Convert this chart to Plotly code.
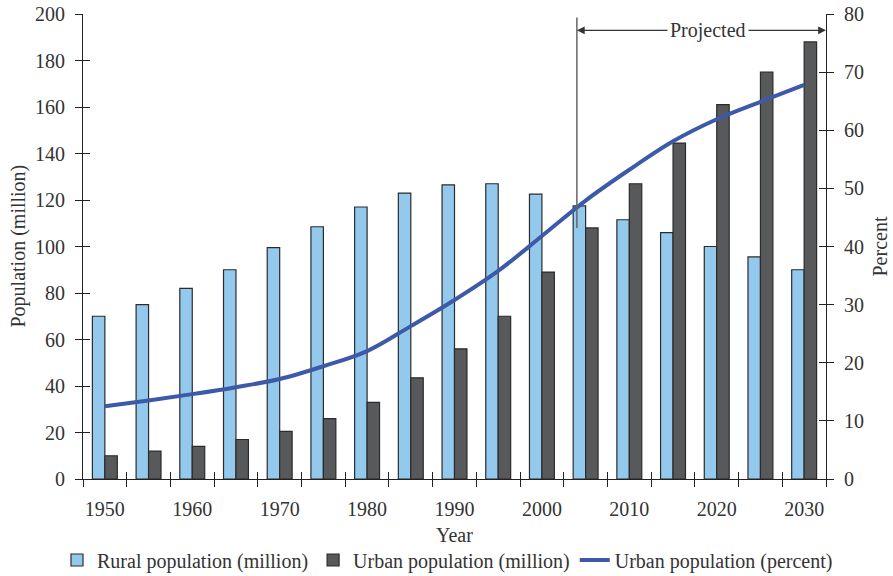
import plotly.graph_objects as go

years = [1950, 1955, 1960, 1965, 1970, 1975, 1980, 1985, 1990, 1995,
         2000, 2005, 2010, 2015, 2020, 2025, 2030]
rural = [70, 75, 82, 90, 99.5, 108.5, 117, 123, 126.5, 127,
         122.5, 117.5, 111.5, 106, 100, 95.5, 90]
urban = [10, 12, 14, 17, 20.5, 26, 33, 43.5, 56, 70,
         89, 108, 127, 144.5, 161, 175, 188]
urban_pct = [12.5, 13.5, 14.6, 15.8, 17.2, 19.4, 22.0, 26.3, 30.8, 35.8,
             41.8, 47.9, 53.2, 58.1, 61.9, 64.9, 67.8]
label_years = [1950, 1960, 1970, 1980, 1990, 2000, 2010, 2020, 2030]
boundaries = [1947.5 + 5 * i for i in range(18)]
proj_start = 2004
proj_y_top = 198.5
proj_y_bottom = 108
arrow_y = 193

FONT = "Liberation Serif"
TXT = "#333333"
AX = "#222222"
xr = [1947.5, 2032.5]

W, H = 893, 576
L, R, T, B = 83, 67, 14, 97
PW, PH = W - L - R, H - T - B

fig = go.Figure()
fig.add_trace(go.Bar(x=years, y=rural, name="Rural population (million)",
                     marker=dict(color="#94c9ee", line=dict(color="#2b2b2b", width=1.2))))
fig.add_trace(go.Bar(x=years, y=urban, name="Urban population (million)",
                     marker=dict(color="#58595b", line=dict(color="#2b2b2b", width=1.2))))
# invisible helper traces so the overlay tick axes are rendered
fig.add_trace(go.Scatter(x=years, y=rural, mode="markers", marker=dict(opacity=0),
                         xaxis="x2", yaxis="y3", showlegend=False, hoverinfo="skip"))
fig.add_trace(go.Scatter(x=years, y=urban_pct, mode="markers", marker=dict(opacity=0),
                         xaxis="x3", yaxis="y4", showlegend=False, hoverinfo="skip"))
fig.add_trace(go.Scatter(x=years, y=urban_pct, name="Urban population (percent)",
                         mode="lines", line=dict(color="#3d5aa8", width=4, shape="spline"),
                         yaxis="y2"))

fig.update_layout(
    width=W, height=H,
    margin=dict(l=L, r=R, t=T, b=B, autoexpand=False),
    paper_bgcolor="white", plot_bgcolor="white",
    font=dict(family=FONT, size=20, color=TXT),
    barmode="group", bargap=0.43, bargroupgap=0,
    showlegend=True,
    legend=dict(orientation="h", x=(97 - 40 - L) / PW, xanchor="left",
                y=-(560 - (H - B)) / PH, yanchor="middle",
                font=dict(size=20, color=TXT), itemwidth=30, tracegroupgap=0,
                bgcolor="rgba(0,0,0,0)"),
    xaxis=dict(range=xr, tickmode="array", tickvals=boundaries, ticktext=[""] * len(boundaries),
               ticks="outside", ticklen=7, tickcolor=AX, showline=True, linecolor=AX,
               linewidth=1.2, showgrid=False, zeroline=False, automargin=False),
    xaxis2=dict(range=xr, overlaying="x", anchor="y", tickmode="array", tickvals=boundaries,
                ticks="inside", ticklen=7, tickcolor=AX, showticklabels=False,
                showline=False, showgrid=False, zeroline=False, automargin=False),
    xaxis3=dict(range=xr, overlaying="x", anchor="y", side="bottom", tickmode="array",
                tickvals=label_years, ticktext=[str(y) for y in label_years], ticks="",
                showline=False, showgrid=False, zeroline=False, ticklabelstandoff=16,
                automargin=False, ticklabeloverflow="allow",
                tickfont=dict(size=20, color=TXT)),
    yaxis=dict(range=[0, 200], tickvals=list(range(0, 201, 20)), ticks="outside", ticklen=7,
               tickcolor=AX, showline=True, linecolor=AX, linewidth=1.2, showgrid=False,
               zeroline=False, ticklabelstandoff=6, automargin=False,
               ticklabeloverflow="allow", tickfont=dict(size=20, color=TXT)),
    yaxis3=dict(range=[0, 200], overlaying="y", side="left", anchor="x",
                tickvals=list(range(0, 201, 20)), ticks="inside", ticklen=7, tickcolor=AX,
                showticklabels=False, showline=False, showgrid=False, zeroline=False,
                automargin=False),
    yaxis2=dict(range=[0, 80], overlaying="y", side="right", anchor="x",
                tickvals=list(range(0, 81, 10)), ticks="outside", ticklen=7, tickcolor=AX,
                showline=True, linecolor=AX, linewidth=1.2, showgrid=False, zeroline=False,
                ticklabelstandoff=6, automargin=False, ticklabeloverflow="allow",
                tickfont=dict(size=20, color=TXT)),
    yaxis4=dict(range=[0, 80], overlaying="y", side="right", anchor="x",
                tickvals=list(range(0, 81, 10)), ticks="inside", ticklen=7, tickcolor=AX,
                showticklabels=False, showline=False, showgrid=False, zeroline=False,
                automargin=False),
)

# axis titles
fig.add_annotation(text="Year", xref="paper", yref="paper", x=(455 - L) / PW,
                   y=-(535 - (H - B)) / PH, showarrow=False,
                   font=dict(size=20, color=TXT), xanchor="center", yanchor="middle")
fig.add_annotation(text="Population (million)", xref="paper", yref="paper",
                   x=-(L - 18) / PW, y=0.5, textangle=-90, showarrow=False,
                   font=dict(size=20, color=TXT), xanchor="center", yanchor="middle")
fig.add_annotation(text="Percent", xref="paper", yref="paper",
                   x=1 + (879 - (W - R)) / PW, y=0.5, textangle=-90,
                   showarrow=False, font=dict(size=20, color=TXT),
                   xanchor="center", yanchor="middle")

fig.add_shape(type="line", xref="x", yref="y", x0=proj_start, x1=proj_start,
              y0=proj_y_bottom, y1=proj_y_top, line=dict(color="#666666", width=1.5))
mid = (proj_start + xr[1]) / 2
for tip in (xr[1], proj_start):
    fig.add_annotation(x=tip, y=arrow_y, ax=mid, ay=arrow_y, xref="x", yref="y",
                       axref="x", ayref="y", text="", showarrow=True, arrowhead=2,
                       arrowsize=1.3, arrowwidth=1.2, arrowcolor="#333333")
fig.add_annotation(x=2019, y=arrow_y, xref="x", yref="y", text="Projected",
                   showarrow=False, bgcolor="white", font=dict(size=20, color=TXT),
                   borderpad=2)

# remove the default 8px page margin so the figure fills the window exactly
fig.write_html("out.html", config={"displayModeBar": False},
               post_script="document.body.style.margin='0';")
